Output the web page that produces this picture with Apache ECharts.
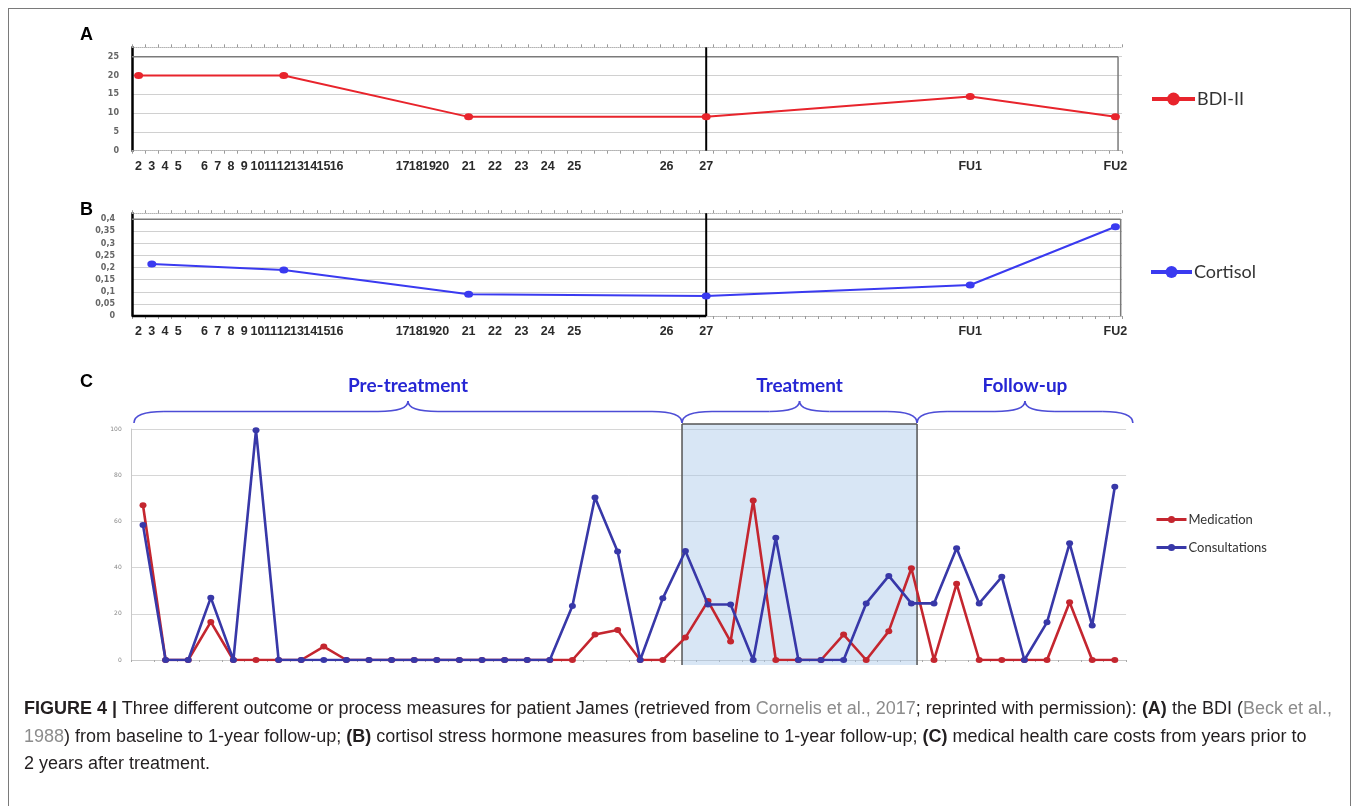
<!DOCTYPE html>
<html><head><meta charset="utf-8">
<script src="https://cdn.jsdelivr.net/npm/echarts@6/dist/echarts.min.js"></script>
<style>
html,body{margin:0;padding:0;background:#fff;}
#chart{position:absolute;left:0;top:0;width:1358px;height:806px;}
#frame{position:absolute;left:8px;top:8px;width:1343px;height:830px;border:1px solid #7a7a7a;box-sizing:border-box;pointer-events:none;}
#caption{position:absolute;left:24px;top:695px;font-family:'Liberation Sans',Arial,sans-serif;font-size:18px;line-height:27.5px;color:#231f20;white-space:nowrap;}
#caption .g{color:#8c8c8c;}
</style></head><body>
<div id="frame"></div>
<div id="chart"></div>
<div id="caption"><b>FIGURE 4 |</b> Three different outcome or process measures for patient James (retrieved from <span class="g">Cornelis et al., 2017</span>; reprinted with permission): <b>(A)</b> the BDI (<span class="g">Beck et al.,</span><br><span class="g">1988</span>) from baseline to 1-year follow-up; <b>(B)</b> cortisol stress hormone measures from baseline to 1-year follow-up; <b>(C)</b> medical health care costs from years prior to<br>2 years after treatment.</div>
<script>
// ---- data ----
const sessionLabels = ['2','3','4','5','','6','7','8','9','10','11','12','13','14','15','16','','','','','17','18','19','20','','21','','22','','23','','24','','25','','','','','','','26','','','27','','','','','','','','','','','','','','','','','','','','FU1','','','','','','','','','','','FU2'];
const bdiSessions = ['2','12','21','27','FU1','FU2'];
const bdiValues = [20, 20, 9, 9, 14.4, 9];
const cortisolSessions = ['3','12','21','27','FU1','FU2'];
const cortisolValues = [0.215, 0.19, 0.09, 0.083, 0.128, 0.369];
const medication = [67,0,0,16.5,0,0,0,0,5.8,0,0,0,0,0,0,0,0,0,0,0,11,13,0,0,9.7,25.5,8,69,0,0,0,11,0,12.5,39.7,0,33,0,0,0,0,25,0,0];
const consultations = [58.4,0,0,27,0,99.5,0,0,0,0,0,0,0,0,0,0,0,0,0,23.4,70.3,47,0,26.7,47.2,24,24,0,52.9,0,0,0,24.5,36.4,24.5,24.5,48.4,24.5,36,0,16.3,50.5,14.9,75];
const costPeriods = medication.map((_, i) => String(i + 1));
const phaseNames = ['Pre-treatment', 'Treatment', 'Follow-up'];
const panelLetters = ['A', 'B', 'C'];

// ---- chart ----
const chart = echarts.init(document.getElementById('chart'), null, {renderer: 'canvas'});
const sans = "'Liberation Sans', Arial, sans-serif";
const labelFont = "Lato, 'Open Sans', sans-serif";

function sessionAxis(grid, pos, showLabels) {
  return {
    type: 'category', gridIndex: grid, position: pos, data: sessionLabels, boundaryGap: true,
    axisLine: {show: true, lineStyle: {color: '#b4b4b4', width: 1, type: 'dotted'}},
    axisTick: {show: true, interval: 0, length: 3, lineStyle: {color: '#9a9a9a'}},
    axisLabel: {show: showLabels, interval: 0, margin: 9, fontFamily: sans, fontWeight: 'bold', fontSize: 12.5, color: '#2a2a2a'},
    splitLine: {show: false}
  };
}
const fmtA = v => (Math.abs(v / 5 - Math.round(v / 5)) < 1e-6 ? String(v) : '');
const fmtB = v => {
  const k = v / 0.05;
  if (Math.abs(k - Math.round(k)) > 1e-6) return '';
  return v === 0 ? '0' : String(+v.toFixed(2)).replace('.', ',');
};

const option = {
  animation: false,
  backgroundColor: 'transparent',
  grid: [
    {left: 132, top: 47.3, width: 990, height: 103.4, outerBoundsMode: 'none'},
    {left: 132, top: 213.2, width: 990, height: 102.8, outerBoundsMode: 'none'},
    {left: 131.7, top: 429, width: 994.4, height: 231, outerBoundsMode: 'none'}
  ],
  xAxis: [
    sessionAxis(0, 'bottom', true),
    sessionAxis(0, 'top', false),
    sessionAxis(1, 'bottom', true),
    sessionAxis(1, 'top', false),
    {type: 'category', gridIndex: 2, data: costPeriods, boundaryGap: true,
      axisLine: {show: true, lineStyle: {color: '#c8c8c8'}},
      axisTick: {show: true, interval: 0, length: 2, lineStyle: {color: '#aaa'}},
      axisLabel: {show: false}, splitLine: {show: false}}
  ],
  yAxis: [
    {type: 'value', gridIndex: 0, min: 0, max: 27.5, interval: 5,
      axisLine: {show: true, lineStyle: {color: '#000', width: 2.5}}, axisTick: {show: false},
      axisLabel: {formatter: fmtA, fontSize: 8, fontWeight: 'bold', color: '#666', margin: 13, fontFamily: 'DejaVu Sans'},
      splitLine: {show: true, showMaxLine: false, lineStyle: {color: '#d0d0d0'}}},
    {type: 'value', gridIndex: 1, min: 0, max: 0.425, interval: 0.05,
      axisLine: {show: true, lineStyle: {color: '#000', width: 2.5}}, axisTick: {show: false},
      axisLabel: {formatter: fmtB, fontSize: 8, fontWeight: 'bold', color: '#666', margin: 17, fontFamily: 'DejaVu Sans'},
      splitLine: {show: true, showMaxLine: false, lineStyle: {color: '#d0d0d0'}}},
    {type: 'value', gridIndex: 2, min: 0, max: 100, interval: 20,
      axisLine: {show: true, lineStyle: {color: '#c8c8c8'}}, axisTick: {show: false},
      axisLabel: {fontSize: 6, color: '#888', margin: 10, fontFamily: 'DejaVu Sans'},
      splitLine: {show: true, lineStyle: {color: '#d6d6d6'}}}
  ],
  legend: [
    {data: ['BDI-II'], left: 1145, top: 85, itemWidth: 43, itemHeight: 16, lineStyle: {width: 4},
      textStyle: {fontFamily: labelFont, fontSize: 18, color: '#333', padding: [0, 0, 0, -3]}},
    {data: ['Cortisol'], left: 1144, top: 258, itemWidth: 41, itemHeight: 15, lineStyle: {width: 4},
      textStyle: {fontFamily: labelFont, fontSize: 18, color: '#333', padding: [0, 0, 0, -3]}},
    {data: ['Medication', 'Consultations'], orient: 'vertical', left: 1150, top: 508, itemGap: 15, itemWidth: 30, itemHeight: 9, lineStyle: {width: 3},
      textStyle: {fontFamily: labelFont, fontSize: 13, color: '#333', padding: [0, 0, 0, -3]}}
  ],
  series: [
    {name: 'BDI-II', type: 'line', xAxisIndex: 0, yAxisIndex: 0, z: 3,
      data: bdiSessions.map((s, i) => [sessionLabels.indexOf(s), bdiValues[i]]),
      symbol: 'circle', symbolSize: [9, 7], lineStyle: {color: '#e8242c', width: 2}, itemStyle: {color: '#e8242c'}},
    {name: 'Cortisol', type: 'line', xAxisIndex: 2, yAxisIndex: 1, z: 3,
      data: cortisolSessions.map((s, i) => [sessionLabels.indexOf(s), cortisolValues[i]]),
      symbol: 'circle', symbolSize: [9, 7], lineStyle: {color: '#3a3af0', width: 2}, itemStyle: {color: '#3a3af0'}},
    {name: 'Medication', type: 'line', xAxisIndex: 4, yAxisIndex: 2, z: 3, data: medication,
      symbol: 'circle', symbolSize: [7, 6], lineStyle: {color: '#c4262f', width: 2.6}, itemStyle: {color: '#c4262f'}},
    {name: 'Consultations', type: 'line', xAxisIndex: 4, yAxisIndex: 2, z: 4, data: consultations,
      symbol: 'circle', symbolSize: [7, 6], lineStyle: {color: '#3838a8', width: 2.6}, itemStyle: {color: '#3838a8'}}
  ]
};
chart.setOption(option);

// ---- annotations positioned through the axes' own scales ----
function catPx(xi, v) {
  const a = chart.convertToPixel({xAxisIndex: xi}, 0);
  const b = chart.convertToPixel({xAxisIndex: xi}, 1);
  return a + v * (b - a);
}
const valPx = (yi, v) => chart.convertToPixel({yAxisIndex: yi}, v);
const ln = (x1, y1, x2, y2, stroke, w) => ({type: 'line', z: 1, silent: true, shape: {x1, y1, x2, y2}, style: {stroke, lineWidth: w}});
const g = [];
const i27 = sessionLabels.indexOf('27');

// panel A frame
{
  const xl = catPx(0, -0.5), xr = catPx(0, 74.2), x27 = catPx(0, i27);
  const y25 = valPx(0, 25), y0 = valPx(0, 0), yTop = valPx(0, 27.5);
  g.push(ln(xl, y25, xr, y25, '#7a7a7a', 1.5), ln(xr, y25, xr, y0, '#7a7a7a', 1.5), ln(x27, yTop, x27, y0, '#000', 2));
}
// panel B frame
{
  const xl = catPx(2, -0.5), xr = catPx(2, 74.4), x27 = catPx(2, i27);
  const y4 = valPx(1, 0.4), y0 = valPx(1, 0), yTop = valPx(1, 0.425);
  g.push(ln(xl, y4, xr, y4, '#7a7a7a', 1.5), ln(xr, y4, xr, y0, '#7a7a7a', 1.5), ln(x27, yTop, x27, y0, '#000', 2), ln(xl, y0, x27, y0, '#000', 2.5));
}
// panel C treatment window + braces
{
  const bounds = [-0.4, 23.85, 34.25, 43.8];
  const px = bounds.map(v => catPx(4, v));
  const y100 = valPx(2, 100), y0 = valPx(2, 0);
  const yt = y100 - 5, yb = y0 + 5;
  g.push({type: 'rect', z: 1, silent: true, shape: {x: px[1], y: yt, width: px[2] - px[1], height: yb - yt}, style: {fill: 'rgba(168,200,232,0.45)'}});
  g.push(ln(px[1], yb, px[1], yt, '#555', 1.5), ln(px[1], yt, px[2], yt, '#555', 1.5), ln(px[2], yt, px[2], yb, '#555', 1.5));
  const yBase = y100 - 6, yFlat = y100 - 17.5, yTip = y100 - 28, r = 30, rt = 30;
  const bc = '#4d4dd6';
  const bez = (x1, y1, cx, cy, x2, y2) => ({type: 'bezierCurve', z: 1, silent: true, shape: {x1, y1, cpx1: cx, cpy1: cy, x2, y2}, style: {stroke: bc, lineWidth: 1.6, fill: null}});
  for (let k = 0; k < 3; k++) {
    const x0 = px[k], x1 = px[k + 1], xm = (x0 + x1) / 2;
    g.push(bez(x0, yBase, x0, yFlat, x0 + r, yFlat));
    g.push(ln(x0 + r, yFlat, xm - rt, yFlat, bc, 1.6));
    g.push(bez(xm - rt, yFlat, xm, yFlat, xm, yTip));
    g.push(bez(xm, yTip, xm, yFlat, xm + rt, yFlat));
    g.push(ln(xm + rt, yFlat, x1 - r, yFlat, bc, 1.6));
    g.push(bez(x1 - r, yFlat, x1, yFlat, x1, yBase));
    g.push({type: 'text', z: 2, silent: true, x: xm, y: y100 - 43,
      style: {text: phaseNames[k], fontFamily: labelFont, fontWeight: 'bold', fontSize: 19, fill: '#2626d4', align: 'center', verticalAlign: 'middle'}});
  }
}
// panel letters
[35, 210, 382].forEach((y, k) => g.push({type: 'text', silent: true, x: 80, y,
  style: {text: panelLetters[k], fontFamily: sans, fontWeight: 'bold', fontSize: 18, fill: '#000', align: 'left', verticalAlign: 'middle'}}));

chart.setOption({graphic: g});
</script>
</body></html>
